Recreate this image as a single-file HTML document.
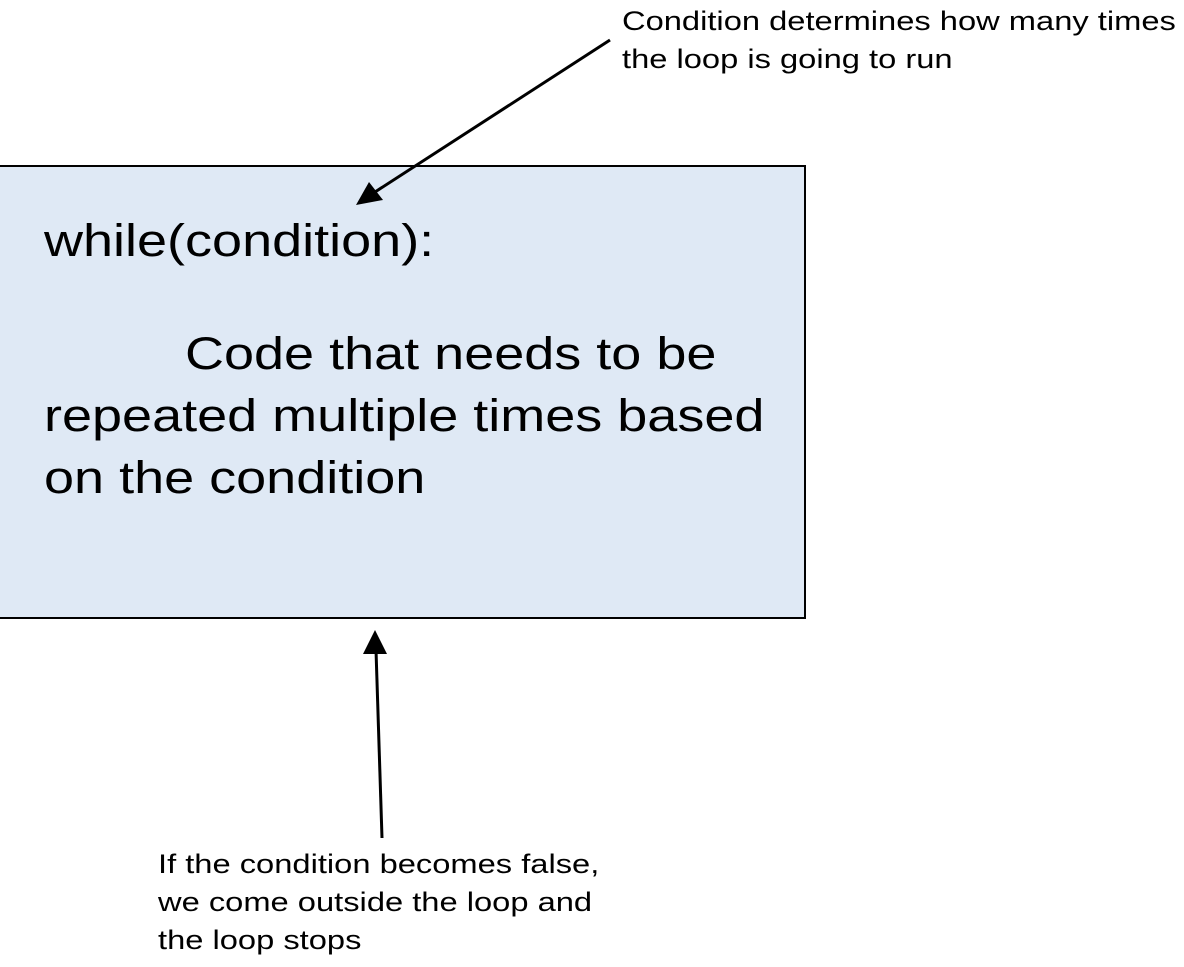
<!DOCTYPE html>
<html><head><style>
body{margin:0;width:1184px;height:967px;background:#fff;position:relative;overflow:hidden;font-family:"Liberation Sans",sans-serif;color:#000}
.box{position:absolute;left:0;top:165px;width:804px;height:450px;background:#dfe9f5;border:2.5px solid #000;box-sizing:content-box;border-left:none}
.t{position:absolute;white-space:nowrap;transform-origin:0 0}
.big{font-size:45px;line-height:62px;transform:scaleX(1.2)}
.sm{font-size:27px;line-height:38px;transform:scaleX(1.21)}
</style></head><body>
<div class="box"></div>
<div class="t big" style="left:44px;top:210px">while(condition):</div>
<div class="t big" style="left:185px;top:323px">Code that needs to be</div>
<div class="t big" style="left:44px;top:385px">repeated multiple times based<br>on the condition</div>
<div class="t sm" style="left:622px;top:2px">Condition determines how many times<br>the loop is going to run</div>
<div class="t sm" style="left:158px;top:845px">If the condition becomes false,<br>we come outside the loop and<br>the loop stops</div>
<svg width="1184" height="967" style="position:absolute;left:0;top:0">
<line x1="610" y1="40" x2="375" y2="192" stroke="#000" stroke-width="3"/>
<polygon points="356,205 369,182 383,200" fill="#000"/>
<line x1="382" y1="838" x2="376" y2="650" stroke="#000" stroke-width="3"/>
<polygon points="375,630 363,654 387,654" fill="#000"/>
</svg>
</body></html>
